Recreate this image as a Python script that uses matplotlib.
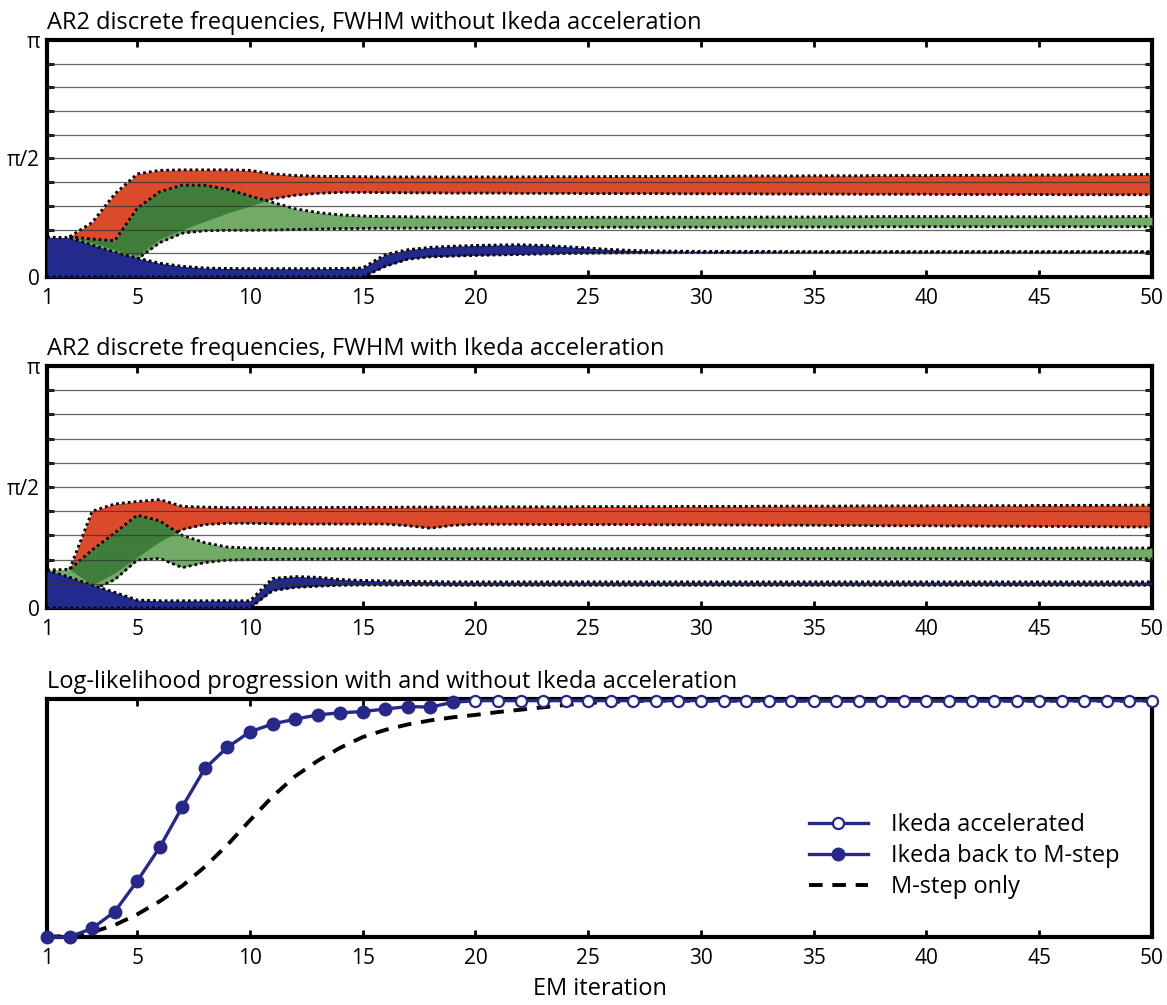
import numpy as np
import matplotlib
matplotlib.use("Agg")
import matplotlib.pyplot as plt

plt.rcParams['font.family'] = ['Open Sans', 'DejaVu Sans']

# EM iterations 1..50
iters = np.arange(1, 51)

# ---- band edges, in units of pi/10 -------------------------------------
# panel 1: without Ikeda acceleration
red_hi_a = [np.nan, 1.70, 2.30, 3.50, 4.35, 4.50, 4.52, 4.52, 4.52, 4.50,
            4.35, 4.28, 4.25, 4.24, 4.23, 4.22, 4.22, 4.22, 4.22, 4.22,
            4.22, 4.22, 4.23, 4.23, 4.23, 4.24, 4.24, 4.24, 4.25, 4.25,
            4.25, 4.26, 4.26, 4.26, 4.27, 4.27, 4.27, 4.28, 4.28, 4.28,
            4.29, 4.29, 4.29, 4.30, 4.30, 4.30, 4.31, 4.31, 4.32, 4.33]
red_lo_a = [np.nan, 1.70, 1.45, 1.15, 0.90, 1.60, 2.00, 2.35, 2.70, 3.00,
            3.30, 3.45, 3.53, 3.57, 3.57, 3.56, 3.55, 3.55, 3.54, 3.54,
            3.54, 3.53, 3.53, 3.53, 3.52, 3.52, 3.52, 3.52, 3.51, 3.51,
            3.51, 3.51, 3.50, 3.50, 3.50, 3.50, 3.49, 3.49, 3.49, 3.49,
            3.48, 3.48, 3.48, 3.48, 3.48, 3.47, 3.47, 3.47, 3.47, 3.47]
green_hi_a = [np.nan, 1.70, 1.60, 1.53, 2.90, 3.60, 3.88, 3.87, 3.70, 3.42,
              3.15, 2.88, 2.72, 2.62, 2.57, 2.55, 2.54, 2.53, 2.52, 2.52,
              2.52, 2.52, 2.52, 2.52, 2.52, 2.52, 2.52, 2.52, 2.52, 2.52,
              2.52, 2.52, 2.53, 2.53, 2.53, 2.54, 2.54, 2.55, 2.55, 2.55,
              2.55, 2.55, 2.54, 2.54, 2.54, 2.54, 2.54, 2.54, 2.55, 2.55]
green_lo_a = [np.nan, 1.60, 1.20, 0.90, 0.75, 1.45, 1.85, 1.95, 1.97, 1.97,
              1.98, 2.00, 2.02, 2.04, 2.05, 2.06, 2.06, 2.07, 2.07, 2.08,
              2.08, 2.08, 2.09, 2.09, 2.09, 2.10, 2.10, 2.10, 2.10, 2.10,
              2.10, 2.11, 2.11, 2.11, 2.11, 2.11, 2.11, 2.12, 2.12, 2.12,
              2.12, 2.12, 2.12, 2.12, 2.12, 2.12, 2.12, 2.12, 2.12, 2.12]
blue_hi_a = [1.68, 1.66, 1.35, 1.05, 0.80, 0.58, 0.45, 0.38, 0.36, 0.35,
             0.35, 0.35, 0.35, 0.36, 0.38, 0.95, 1.15, 1.25, 1.30, 1.33,
             1.35, 1.36, 1.33, 1.28, 1.22, 1.16, 1.12, 1.10, 1.09, 1.08,
             1.08, 1.08, 1.08, 1.07, 1.07, 1.07, 1.07, 1.07, 1.07, 1.07,
             1.07, 1.07, 1.07, 1.07, 1.07, 1.07, 1.07, 1.07, 1.07, 1.07]
blue_lo_a = [0, 0, 0, 0, 0, 0, 0, 0, 0, 0,
             0, 0, 0, 0, 0, 0.45, 0.75, 0.85, 0.88, 0.91,
             0.93, 0.95, 0.97, 0.99, 1.00, 1.01, 1.02, 1.02, 1.03, 1.03,
             1.03, 1.03, 1.04, 1.04, 1.04, 1.04, 1.04, 1.04, 1.04, 1.04,
             1.04, 1.04, 1.04, 1.04, 1.04, 1.04, 1.04, 1.04, 1.04, 1.04]

# panel 2: with Ikeda acceleration
red_hi_b = [np.nan, 1.60, 4.00, 4.30, 4.40, 4.48, 4.20, 4.17, 4.15, 4.15,
            4.15, 4.15, 4.15, 4.16, 4.16, 4.16, 4.17, 4.17, 4.17, 4.17,
            4.18, 4.18, 4.18, 4.18, 4.19, 4.19, 4.19, 4.19, 4.20, 4.20,
            4.20, 4.20, 4.21, 4.21, 4.21, 4.21, 4.22, 4.22, 4.22, 4.22,
            4.23, 4.23, 4.23, 4.23, 4.24, 4.24, 4.24, 4.24, 4.25, 4.25]
red_lo_b = [np.nan, 1.60, 0.95, 1.45, 2.10, 2.75, 3.25, 3.45, 3.50, 3.50,
            3.48, 3.47, 3.47, 3.47, 3.47, 3.47, 3.40, 3.30, 3.42, 3.46,
            3.46, 3.46, 3.45, 3.45, 3.45, 3.45, 3.45, 3.44, 3.44, 3.44,
            3.43, 3.43, 3.42, 3.42, 3.42, 3.41, 3.41, 3.40, 3.40, 3.40,
            3.39, 3.39, 3.38, 3.38, 3.37, 3.37, 3.36, 3.36, 3.35, 3.35]
green_hi_b = [1.57, 1.60, 2.40, 3.10, 3.84, 3.60, 3.00, 2.70, 2.52, 2.48,
              2.46, 2.45, 2.45, 2.45, 2.45, 2.45, 2.45, 2.45, 2.45, 2.45,
              2.45, 2.45, 2.45, 2.45, 2.45, 2.45, 2.46, 2.46, 2.46, 2.46,
              2.46, 2.46, 2.46, 2.46, 2.46, 2.46, 2.47, 2.47, 2.47, 2.47,
              2.47, 2.47, 2.47, 2.47, 2.47, 2.47, 2.48, 2.48, 2.48, 2.48]
green_lo_b = [1.57, 1.10, 0.75, 1.17, 1.98, 2.05, 1.67, 1.88, 1.98, 2.00,
              2.01, 2.02, 2.02, 2.03, 2.03, 2.03, 2.03, 2.03, 2.03, 2.03,
              2.03, 2.03, 2.03, 2.03, 2.03, 2.03, 2.03, 2.03, 2.03, 2.03,
              2.03, 2.03, 2.03, 2.03, 2.03, 2.03, 2.03, 2.03, 2.03, 2.03,
              2.03, 2.03, 2.03, 2.03, 2.03, 2.03, 2.03, 2.03, 2.03, 2.03]
blue_hi_b = [1.57, 1.27, 0.95, 0.65, 0.33, 0.30, 0.30, 0.30, 0.30, 0.30,
             1.22, 1.30, 1.27, 1.18, 1.14, 1.12, 1.10, 1.09, 1.08, 1.08,
             1.08, 1.08, 1.08, 1.08, 1.08, 1.08, 1.08, 1.08, 1.08, 1.08,
             1.08, 1.08, 1.08, 1.08, 1.08, 1.08, 1.08, 1.08, 1.08, 1.08,
             1.08, 1.08, 1.08, 1.08, 1.08, 1.08, 1.08, 1.08, 1.08, 1.08]
blue_lo_b = [0, 0, 0, 0, 0, 0, 0, 0, 0, 0,
             0.72, 0.85, 0.90, 0.94, 0.95, 0.95, 0.95, 0.95, 0.94, 0.94,
             0.94, 0.94, 0.94, 0.94, 0.94, 0.94, 0.94, 0.94, 0.94, 0.94,
             0.94, 0.94, 0.94, 0.94, 0.94, 0.94, 0.94, 0.94, 0.94, 0.94,
             0.94, 0.94, 0.94, 0.94, 0.94, 0.94, 0.94, 0.94, 0.94, 0.94]

# panel 3: normalised log-likelihood
ll_back = [0.0, 0.0, 0.036, 0.106, 0.235, 0.377, 0.547, 0.708, 0.797, 0.862,
           0.895, 0.915, 0.933, 0.942, 0.947, 0.958, 0.968, 0.966, 0.986]
ll_accel = [0.986] + [0.993] * 31          # iterations 19..50
ll_mstep = [0.0, 0.005, 0.02, 0.05, 0.095, 0.15, 0.215, 0.295, 0.387, 0.49,
            0.59, 0.675, 0.74, 0.795, 0.84, 0.87, 0.893, 0.91, 0.923, 0.933,
            0.945, 0.955, 0.965, 0.975, 0.983, 0.988, 0.991, 0.993, 0.993, 0.993,
            0.993, 0.993, 0.993, 0.993, 0.993, 0.993, 0.993, 0.993, 0.993, 0.993,
            0.993, 0.993, 0.993, 0.993, 0.993, 0.993, 0.993, 0.993, 0.993, 0.993]

xticks = [1, 5, 10, 15, 20, 25, 30, 35, 40, 45, 50]

RED = '#dc4a2c'
LGREEN = '#72ab68'
DGREEN = '#3f7d3a'
BLUE = '#222a8e'
NAVY = '#27288a'
DOT = dict(color='black', lw=2.0, ls=(0, (1.0, 1.1)))
FS = 15


def style_axes(ax):
    for sp in ax.spines.values():
        sp.set_linewidth(3)
    ax.set_xlim(1, 50)
    ax.set_xticks(xticks)
    ax.tick_params(axis='x', direction='in', top=True, length=5, width=2,
                   labelsize=FS, pad=8)


def band_panel(ax, title, red_hi, red_lo, green_hi, green_lo, blue_hi, blue_lo):
    s = np.pi / 10
    rh, rl = np.array(red_hi) * s, np.array(red_lo) * s
    gh, gl = np.array(green_hi) * s, np.array(green_lo) * s
    bh, bl = np.array(blue_hi) * s, np.array(blue_lo) * s

    ax.fill_between(iters, rl, rh, color=RED, lw=0, zorder=2)
    ax.plot(iters, rh, zorder=3, **DOT)
    ax.plot(iters, rl, zorder=3, **DOT)

    ax.fill_between(iters, gl, gh, color=LGREEN, lw=0, zorder=4)
    olo, ohi = np.maximum(rl, gl), np.minimum(rh, gh)
    ax.fill_between(iters, olo, ohi, where=ohi > olo, interpolate=True,
                    color=DGREEN, lw=0, zorder=4.5)
    ax.plot(iters, gh, zorder=5, **DOT)
    ax.plot(iters, gl, zorder=5, **DOT)

    ax.fill_between(iters, bl, bh, color=BLUE, lw=0, zorder=6)
    ax.plot(iters, bh, zorder=7, **DOT)
    ax.plot(iters, bl, zorder=7, **DOT)

    for k in range(1, 10):
        ax.axhline(k * s, color='#333333', lw=0.9, alpha=0.75, zorder=8)

    style_axes(ax)
    ax.set_ylim(0, np.pi)
    ax.set_yticks([0, np.pi / 2, np.pi])
    ax.set_yticklabels(['0', 'π/2', 'π'])
    ax.set_yticks([k * s for k in range(11)], minor=True)
    ax.tick_params(axis='y', which='both', direction='in', right=True,
                   length=5, width=2, labelsize=FS, pad=5)
    ax.set_title(title, loc='left', fontsize=17, pad=8)


fig = plt.figure(figsize=(11.67, 10.05), dpi=100)
ax1 = fig.add_axes([0.0403, 0.7244, 0.9468, 0.2358])
ax2 = fig.add_axes([0.0403, 0.3950, 0.9468, 0.2408])
ax3 = fig.add_axes([0.0403, 0.0677, 0.9468, 0.2368])

band_panel(ax1, 'AR2 discrete frequencies, FWHM without Ikeda acceleration',
           red_hi_a, red_lo_a, green_hi_a, green_lo_a, blue_hi_a, blue_lo_a)
band_panel(ax2, 'AR2 discrete frequencies, FWHM with Ikeda acceleration',
           red_hi_b, red_lo_b, green_hi_b, green_lo_b, blue_hi_b, blue_lo_b)

# log-likelihood panel
ax3.plot(iters[18:], ll_accel, color=NAVY, lw=2.4, marker='o', ms=8,
         mfc='white', mec=NAVY, mew=1.6, markevery=list(range(1, 32)),
         clip_on=False, zorder=4, label='Ikeda accelerated')
ax3.plot(iters[:19], ll_back, color=NAVY, lw=2.4, marker='o', ms=9,
         mfc=NAVY, mec=NAVY, clip_on=False, zorder=5,
         label='Ikeda back to M-step')
ax3.plot(iters, ll_mstep, color='black', lw=2.8, ls=(0, (3.5, 2.5)),
         zorder=3, label='M-step only')
style_axes(ax3)
ax3.set_ylim(0, 1)
ax3.set_yticks([])
ax3.set_xlabel('EM iteration', fontsize=17, labelpad=6)
ax3.set_title('Log-likelihood progression with and without Ikeda acceleration',
              loc='left', fontsize=17, pad=8)
ax3.legend(loc='upper left', bbox_to_anchor=(0.67, 0.61), frameon=False,
           fontsize=17, handlelength=2.5, handletextpad=1.0, labelspacing=0.3)

fig.savefig('out.png', dpi=100)
